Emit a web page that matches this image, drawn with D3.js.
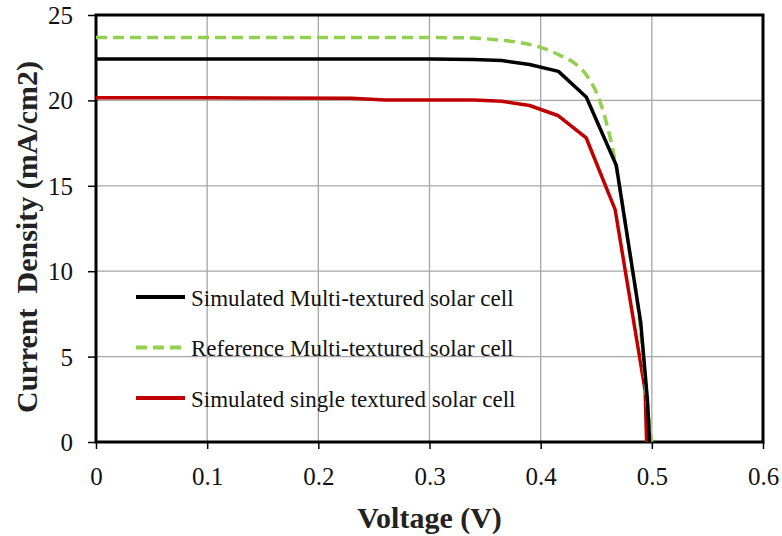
<!DOCTYPE html>
<html>
<head>
<meta charset="utf-8">
<script src="https://cdn.jsdelivr.net/npm/d3@7"></script>
<style>
  body { margin: 0; background: #fff; }
  svg text { font-family: "Liberation Serif", "Times New Roman", Times, "DejaVu Serif", serif !important; }
</style>
</head>
<body>
<svg id="chart" width="782" height="536"></svg>
<script>
// values
var simMultiV = [0, 0.1, 0.2, 0.3, 0.34, 0.365, 0.39, 0.416, 0.441, 0.468, 0.49, 0.496, 0.498];
var simMultiJ = [22.42, 22.42, 22.42, 22.42, 22.4, 22.33, 22.1, 21.7, 20.2, 16.2, 7.0, 2.5, 0];

var refMultiV = [0, 0.1, 0.2, 0.3, 0.34, 0.36, 0.38, 0.4, 0.417, 0.43, 0.441, 0.453, 0.468, 0.48, 0.489, 0.4968, 0.4998];
var refMultiJ = [23.68, 23.68, 23.68, 23.68, 23.65, 23.55, 23.4, 23.1, 22.65, 22.2, 21.5, 20.0, 16.1, 11.1, 7.1, 1.7, 0];

var simSingleV = [0, 0.1, 0.23, 0.26, 0.34, 0.365, 0.39, 0.416, 0.441, 0.467, 0.494, 0.4953];
var simSingleJ = [20.15, 20.15, 20.12, 20.03, 20.03, 19.95, 19.7, 19.1, 17.8, 13.6, 3.0, 0];

var xTicks = [0, 0.1, 0.2, 0.3, 0.4, 0.5, 0.6];
var yTicks = [0, 5, 10, 15, 20, 25];

var seriesNames = ["Simulated Multi-textured solar cell",
                   "Reference Multi-textured solar cell",
                   "Simulated single textured solar cell"];

var margin = {left: 96, right: 19, top: 15, bottom: 94};
var W = 782, H = 536;
var serif = "'Liberation Serif', 'Times New Roman', Times, 'DejaVu Serif', serif";

var svg = d3.select("#chart");
var x = d3.scaleLinear().domain([0, 0.6]).range([margin.left, W - margin.right]);
var y = d3.scaleLinear().domain([0, 25]).range([H - margin.bottom, margin.top]);

// grid
svg.append("g").selectAll("line").data(xTicks.slice(1, -1)).enter().append("line")
  .attr("x1", function(d){ return x(d); }).attr("x2", function(d){ return x(d); })
  .attr("y1", y(0)).attr("y2", y(25))
  .attr("stroke", "#a6a6a6").attr("stroke-width", 1.3);
svg.append("g").selectAll("line").data(yTicks.slice(1, -1)).enter().append("line")
  .attr("x1", x(0)).attr("x2", x(0.6))
  .attr("y1", function(d){ return y(d); }).attr("y2", function(d){ return y(d); })
  .attr("stroke", "#a6a6a6").attr("stroke-width", 1.3);

// axes
var xAxis = svg.append("g").attr("transform", "translate(0," + y(0) + ")")
  .call(d3.axisBottom(x).tickValues(xTicks).tickSize(7).tickPadding(18)
    .tickFormat(function(d){ return d === 0 ? "0" : d3.format(".1f")(d); }));
var yAxis = svg.append("g").attr("transform", "translate(" + x(0) + ",0)")
  .call(d3.axisLeft(y).tickValues(yTicks).tickSize(8).tickPadding(15));

[xAxis, yAxis].forEach(function(a){
  a.attr("font-family", serif);
  a.select(".domain").remove();
  a.selectAll(".tick line").attr("stroke", "#000").attr("stroke-width", 1.5);
  a.selectAll("text").attr("font-size", 25).attr("fill", "#111")
    .style("font-family", serif);
});
yAxis.selectAll("text").attr("dy", "0.34em");

// frame
svg.append("rect")
  .attr("x", x(0)).attr("y", y(25))
  .attr("width", x(0.6) - x(0)).attr("height", y(0) - y(25))
  .attr("fill", "none").attr("stroke", "#000").attr("stroke-width", 3);

// series
var line = d3.line().x(function(d){ return x(d[0]); }).y(function(d){ return y(d[1]); });
var smooth = d3.line().curve(d3.curveMonotoneX)
  .x(function(d){ return x(d[0]); }).y(function(d){ return y(d[1]); });

var series = [
  {v: simSingleV, j: simSingleJ, color: "#c00000", dash: null, gen: line},
  {v: refMultiV, j: refMultiJ, color: "#92d050", dash: "11,6", gen: smooth},
  {v: simMultiV, j: simMultiJ, color: "#000000", dash: null, gen: line}
];
series.forEach(function(s){
  svg.append("path")
    .datum(d3.zip(s.v, s.j))
    .attr("d", s.gen)
    .attr("fill", "none")
    .attr("stroke", s.color)
    .attr("stroke-width", 3.5)
    .attr("stroke-dasharray", s.dash)
    .attr("stroke-linejoin", "round");
});

// legend
var legend = [
  {name: seriesNames[0], color: "#000000", dash: null},
  {name: seriesNames[1], color: "#92d050", dash: "11,6"},
  {name: seriesNames[2], color: "#c00000", dash: null}
];
var lg = svg.append("g").selectAll("g").data(legend).enter().append("g")
  .attr("transform", function(d, i){ return "translate(136," + (297 + i * 50.5) + ")"; });
lg.append("line").attr("x1", 0).attr("x2", 49).attr("y1", 0).attr("y2", 0)
  .attr("stroke", function(d){ return d.color; }).attr("stroke-width", 4)
  .attr("stroke-dasharray", function(d){ return d.dash; });
lg.append("text").attr("x", 55).attr("y", 8.5)
  .attr("font-size", 23).attr("fill", "#111").style("font-family", serif)
  .text(function(d){ return d.name; });

// axis titles
svg.append("text")
  .attr("x", (x(0) + x(0.6)) / 2).attr("y", 528)
  .attr("text-anchor", "middle").attr("font-weight", "bold").attr("font-size", 30)
  .attr("fill", "#222").style("font-family", serif)
  .text("Voltage (V)");
svg.append("text")
  .attr("transform", "translate(37," + 237 + ") rotate(-90)")
  .attr("text-anchor", "middle").attr("font-weight", "bold").attr("font-size", 30)
  .attr("fill", "#222").style("font-family", serif)
  .attr("xml:space", "preserve")
  .text("Current  Density (mA/cm2)");
</script>
</body>
</html>
